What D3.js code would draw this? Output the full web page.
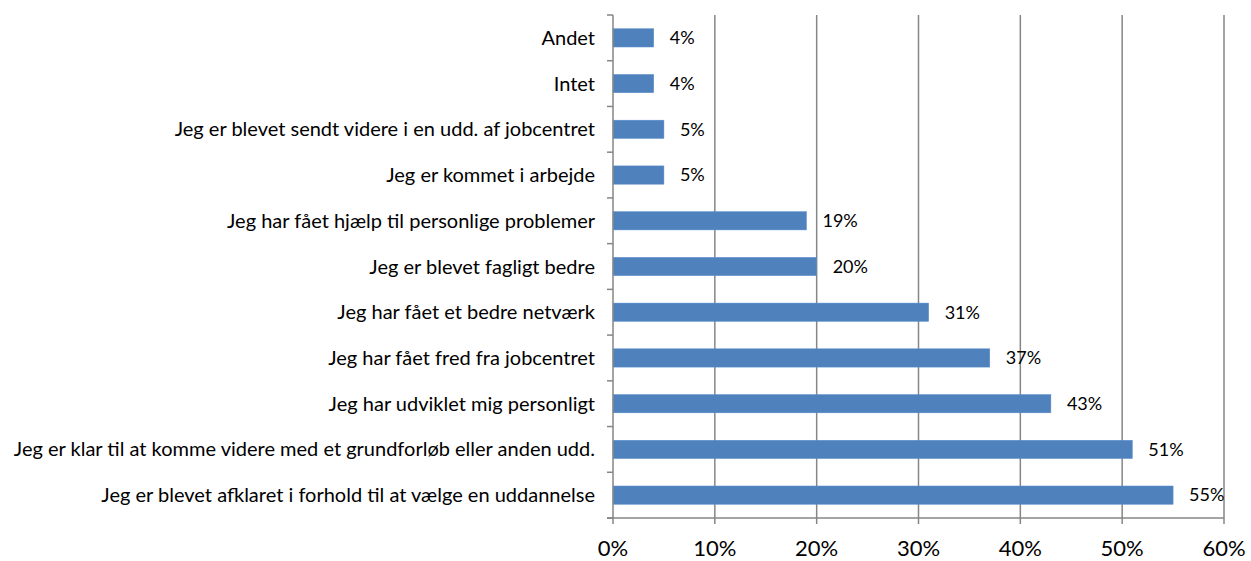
<!DOCTYPE html>
<html>
<head>
<meta charset="utf-8">
<script src="https://cdn.jsdelivr.net/npm/d3@7"></script>
<style>
  body { margin: 0; background: #fff; }
  svg text { font-family: Lato, "Open Sans", sans-serif; fill: #000; }
</style>
</head>
<body>
<script>
var categories = [
  "Andet",
  "Intet",
  "Jeg er blevet sendt videre i en udd. af jobcentret",
  "Jeg er kommet i arbejde",
  "Jeg har fået hjælp til personlige problemer",
  "Jeg er blevet fagligt bedre",
  "Jeg har fået et bedre netværk",
  "Jeg har fået fred fra jobcentret",
  "Jeg har udviklet mig personligt",
  "Jeg er klar til at komme videre med et grundforløb eller anden udd.",
  "Jeg er blevet afklaret i forhold til at vælge en uddannelse"
];
var values = [4, 4, 5, 5, 19, 20, 31, 37, 43, 51, 55];
var xTicks = [0, 10, 20, 30, 40, 50, 60];

var margin = { top: 15, right: 27, bottom: 43, left: 613 };
var width = 1251 - margin.left - margin.right;
var height = 561 - margin.top - margin.bottom;

var svg = d3.select("body").append("svg")
    .attr("width", 1251)
    .attr("height", 561)
  .append("g")
    .attr("transform", "translate(" + margin.left + "," + margin.top + ")");

var x = d3.scaleLinear().domain([0, 60]).range([0, width]);
var y = d3.scaleBand().domain(categories).range([0, height])
    .paddingInner(0.6).paddingOuter(0.3);

// gridlines
svg.selectAll(".grid")
    .data(xTicks.slice(1))
  .enter().append("line")
    .attr("x1", function(d) { return x(d); })
    .attr("x2", function(d) { return x(d); })
    .attr("y1", 0)
    .attr("y2", height + 6)
    .attr("stroke", "#868686")
    .attr("stroke-width", 1.5);

// bars
svg.selectAll(".bar")
    .data(values)
  .enter().append("rect")
    .attr("x", 0)
    .attr("y", function(d, i) { return y(categories[i]); })
    .attr("width", function(d) { return x(d); })
    .attr("height", y.bandwidth())
    .attr("fill", "#4F81BD")
    .attr("stroke", "#5B8FD0")
    .attr("stroke-width", 0.5);

// value labels
svg.selectAll(".val")
    .data(values)
  .enter().append("text")
    .attr("x", function(d) { return x(d) + 16; })
    .attr("y", function(d, i) { return y(categories[i]) + y.bandwidth() / 2; })
    .attr("dy", "0.35em")
    .style("font-size", "18px")
    .text(function(d) { return d + "%"; });

// y axis
svg.append("line")
    .attr("x1", 0).attr("x2", 0)
    .attr("y1", 0).attr("y2", height + 6)
    .attr("stroke", "#868686").attr("stroke-width", 1.5);
svg.selectAll(".ytick")
    .data(d3.range(categories.length + 1))
  .enter().append("line")
    .attr("x1", -6).attr("x2", 0)
    .attr("y1", function(d) { return d * height / categories.length; })
    .attr("y2", function(d) { return d * height / categories.length; })
    .attr("stroke", "#868686").attr("stroke-width", 1.5);

svg.selectAll(".ylab")
    .data(categories)
  .enter().append("text")
    .attr("x", -18)
    .attr("y", function(d) { return y(d) + y.bandwidth() / 2; })
    .attr("dy", "0.35em")
    .attr("text-anchor", "end")
    .style("font-size", "20px")
    .text(function(d) { return d; });

// x axis
svg.append("line")
    .attr("x1", -6).attr("x2", width)
    .attr("y1", height).attr("y2", height)
    .attr("stroke", "#868686").attr("stroke-width", 1.5);

svg.selectAll(".xlab")
    .data(xTicks)
  .enter().append("text")
    .attr("x", function(d) { return x(d); })
    .attr("y", height + 38)
    .attr("text-anchor", "middle")
    .style("font-size", "22px")
    .text(function(d) { return d + "%"; });
</script>
</body>
</html>
